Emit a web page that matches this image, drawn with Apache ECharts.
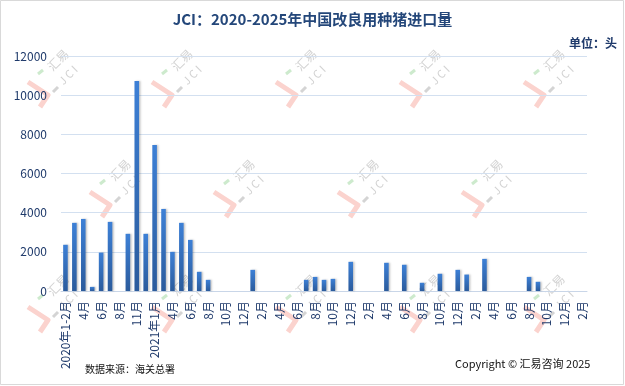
<!DOCTYPE html>
<html>
<head>
<meta charset="utf-8">
<script src="https://cdn.jsdelivr.net/npm/echarts@6/dist/echarts.min.js"></script>
<style>html,body{margin:0;padding:0;background:#fff}#c{width:625px;height:386px}</style>
</head>
<body>
<div id="c"></div>
<script>
const categories = [
  "2020年1-2月","3月","4月","5月","6月","7月","8月","9月","11月","12月",
  "2021年1月","3月","4月","5月","6月","7月","8月","9月","10月","11月","12月",
  "2022年1月","2月","3月","4月","5月","6月","7月","8月","9月","10月","11月","12月",
  "2023年1月","2月","3月","4月","5月","6月","7月","8月","9月","10月","11月","12月",
  "2024年1月","2月","3月","4月","5月","6月","7月","8月","9月","10月","11月","12月",
  "2025年1月","2月"
];
const imports = [
  2360,3480,3680,210,1960,3530,0,2920,10720,2920,
  7460,4190,2000,3480,2610,980,570,0,0,0,0,
  1080,0,0,0,0,0,570,720,570,620,0,1490,
  0,0,0,1440,0,1340,0,420,0,880,0,1080,
  840,0,1640,0,0,0,0,720,470,0,0,0,
  0,0
];
const yTicks = [0,2000,4000,6000,8000,10000,12000];
const titleText = "JCI：2020-2025年中国改良用种猪进口量";
const unitText = "单位：头";
const sourceText = "数据来源：海关总署";
const copyrightText = "Copyright © 汇易咨询 2025";

const FONT = "'Noto Sans CJK SC','Noto Sans',sans-serif";
const NAVY = "#1f3a6b";

function watermark(ax, ay) {
  return {
    type: 'group', x: ax, y: ay, silent: true, z: 0,
    children: [
      { type: 'polyline', shape: { points: [[-17,-13],[3,0],[-5,12]] },
        style: { stroke: '#fbd3ce', lineWidth: 5, fill: null, lineJoin: 'round' } },
      { type: 'polyline', shape: { points: [[-7,-21],[-2,-25]] },
        style: { stroke: '#cdeacd', lineWidth: 3, fill: null } },
      { type: 'polyline', shape: { points: [[8,-3],[13,-8]] },
        style: { stroke: '#d4d4d4', lineWidth: 3, fill: null } },
      { type: 'text', x: 13, y: -35, rotation: Math.PI/4,
        style: { text: '汇易', fill: '#d2d2d2', font: '12px ' + FONT, align: 'center', verticalAlign: 'middle' } },
      { type: 'text', x: 23, y: -20, rotation: Math.PI/4,
        style: { text: 'J C I', fill: '#d2d2d2', font: '11px ' + FONT, align: 'center', verticalAlign: 'middle' } }
    ]
  };
}
const marks = [];
[45,169,293,417,541].forEach(x => marks.push(watermark(x, 95)));
[107,231,355,479].forEach(x => marks.push(watermark(x, 205)));
[45,169,293,417,541].forEach(x => marks.push(watermark(x, 320)));

const chart = echarts.init(document.getElementById('c'), null, { renderer: 'canvas' });
chart.setOption({
  animation: false,
  backgroundColor: '#ffffff',
  textStyle: { fontFamily: FONT },
  title: {
    text: titleText, left: 'center', top: 7,
    textStyle: { color: '#24477a', fontSize: 15, fontWeight: 'bold', fontFamily: FONT }
  },
  grid: { left: 61, right: 38, top: 56, bottom: 95, containLabel: false },
  xAxis: {
    type: 'category', data: categories,
    axisLine: { lineStyle: { color: '#c9d6e8', width: 1 } },
    axisTick: { show: false },
    axisLabel: { interval: 1, rotate: 90, margin: 10, color: NAVY, fontSize: 12, fontFamily: FONT }
  },
  yAxis: {
    type: 'value', min: yTicks[0], max: yTicks[yTicks.length-1], interval: 2000,
    axisLine: { show: false }, axisTick: { show: false },
    splitLine: { lineStyle: { color: '#d3e0f0', width: 1 } },
    axisLabel: { margin: 14, color: NAVY, fontSize: 12, fontFamily: FONT, formatter: v => String(v) }
  },
  series: [{
    type: 'bar', data: imports, barWidth: 4.6,
    itemStyle: {
      color: new echarts.graphic.LinearGradient(0,0,0,1,[
        { offset: 0, color: '#3d80d6' }, { offset: 1, color: '#2b5b9c' }
      ]),
      shadowColor: 'rgba(0,0,0,0.22)', shadowBlur: 2, shadowOffsetX: 1.5
    }
  }],
  graphic: marks.concat([
    { type: 'text', right: 8, top: 37, z: 10,
      style: { text: unitText, fill: NAVY, font: 'bold 12px ' + FONT } },
    { type: 'text', left: 85, top: 364, z: 10,
      style: { text: sourceText, fill: '#111', font: '10px ' + FONT } },
    { type: 'text', left: 455, top: 358, z: 10,
      style: { text: copyrightText, fill: '#111', font: '11px ' + FONT } },
    { type: 'rect', shape: { x: 0.5, y: 0.5, width: 623, height: 384 }, z: 20, silent: true,
      style: { fill: null, stroke: '#d9d9d9', lineWidth: 1 } }
  ])
});
</script>
</body>
</html>
